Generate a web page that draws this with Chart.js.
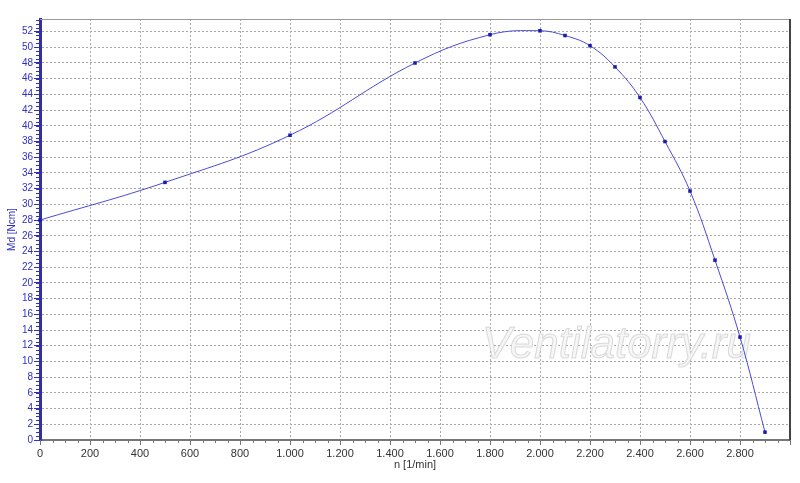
<!DOCTYPE html>
<html>
<head>
<meta charset="utf-8">
<script src="https://cdn.jsdelivr.net/npm/chart.js@4/dist/chart.umd.min.js"></script>
<style>
  html, body { margin: 0; padding: 0; background: #fff; }
  #wrap { width: 800px; height: 483px; }
</style>
</head>
<body>
<div id="wrap"><canvas id="chart" width="800" height="483"></canvas></div>
<script>
// speed n [1/min] and torque Md [Ncm]
const speed = [0, 500, 1000, 1500, 1800, 2000, 2100, 2200, 2300, 2400, 2500, 2600, 2700, 2800, 2900];
const torque = [28.0, 32.8, 38.8, 48.0, 51.6, 52.1, 51.5, 50.2, 47.5, 43.6, 38.0, 31.7, 22.9, 13.1, 1.0];
const xTitle = 'n [1/min]';
const yTitle = 'Md [Ncm]';
const watermark = 'Ventilatorry.ru';

const blue = '#2f2fc8';

// minor ticks, plot frame and the faint watermark
const extras = {
    id: 'extras',
    beforeDatasetsDraw(chart) {
        const ctx = chart.ctx;
        const a = chart.chartArea;
        const x = chart.scales.x, y = chart.scales.y;
        ctx.save();
        // watermark
        ctx.font = 'italic 44px "Liberation Sans", Arial, sans-serif';
        ctx.fillStyle = '#f6f6f6';
        ctx.strokeStyle = 'rgba(190,190,190,0.55)';
        ctx.lineWidth = 1;
        ctx.fillText(watermark, 482, 358);
        ctx.strokeText(watermark, 482, 358);
        // frame
        ctx.strokeStyle = '#999';
        ctx.lineWidth = 1;
        ctx.beginPath();
        ctx.moveTo(a.left, a.top + 0.5);
        ctx.lineTo(a.right, a.top + 0.5);
        ctx.stroke();
        ctx.strokeStyle = '#444';
        ctx.lineWidth = 2;
        ctx.beginPath();
        ctx.moveTo(a.right, a.top);
        ctx.lineTo(a.right, a.bottom);
        ctx.stroke();
        // minor ticks y
        ctx.strokeStyle = blue;
        ctx.lineWidth = 1;
        for (let v = 0; v <= y.max; v += 0.5) {
            const py = Math.round(y.getPixelForValue(v)) + 0.5;
            ctx.beginPath();
            ctx.moveTo(a.left - 4, py);
            ctx.lineTo(a.left, py);
            ctx.stroke();
        }
        // minor ticks x
        ctx.strokeStyle = '#777';
        for (let v = 0; v <= x.max; v += 50) {
            const px = Math.round(x.getPixelForValue(v)) + 0.5;
            ctx.beginPath();
            ctx.moveTo(px, a.bottom);
            ctx.lineTo(px, a.bottom + 3);
            ctx.stroke();
        }
        ctx.restore();
    }
};

new Chart(document.getElementById('chart'), {
    type: 'line',
    data: {
        datasets: [{
            data: speed.map((s, i) => ({ x: s, y: torque[i] })),
            borderColor: '#4a4ad8',
            borderWidth: 1,
            tension: 0.4,
            clip: false,
            pointStyle: 'rect',
            pointRadius: 2.5,
            pointBackgroundColor: '#1a1ab0',
            pointBorderColor: '#1a1ab0',
            pointBorderWidth: 0
        }]
    },
    options: {
        responsive: false,
        animation: false,
        layout: { padding: { top: 19, right: 10, left: 0, bottom: 0 } },
        plugins: { legend: { display: false }, tooltip: { enabled: false } },
        scales: {
            x: {
                type: 'linear',
                min: 0,
                max: 3000,
                afterFit: s => { s.height = 43; },
                ticks: {
                    stepSize: 200,
                    maxRotation: 0,
                    autoSkip: false,
                    color: '#333',
                    padding: 2,
                    font: { family: '"Liberation Sans", Arial, sans-serif', size: 11 },
                    callback: v => v >= 3000 ? '' : v.toLocaleString('de-DE')
                },
                grid: { color: '#aaa', tickColor: '#777', tickLength: 5, tickBorderDash: [] },
                border: { color: '#777', width: 2, dash: [2, 2] },
                title: {
                    display: true, text: xTitle, color: '#333', padding: { top: 0, bottom: 11 },
                    font: { family: '"Liberation Sans", Arial, sans-serif', size: 11 }
                }
            },
            y: {
                min: 0,
                max: 53.6,
                afterFit: s => { s.width = 40; },
                ticks: {
                    stepSize: 2,
                    autoSkip: false,
                    includeBounds: false,
                    color: blue,
                    padding: 1,
                    font: { family: '"Liberation Sans", Arial, sans-serif', size: 10 }
                },
                grid: { color: '#aaa', tickColor: blue, tickLength: 6, tickBorderDash: [] },
                border: { color: '#3030a0', width: 3, dash: [2, 2] },
                title: {
                    display: true, text: yTitle, color: blue, padding: { top: 6, bottom: 0 },
                    font: { family: '"Liberation Sans", Arial, sans-serif', size: 10 }
                }
            }
        }
    },
    plugins: [extras]
});
</script>
</body>
</html>
